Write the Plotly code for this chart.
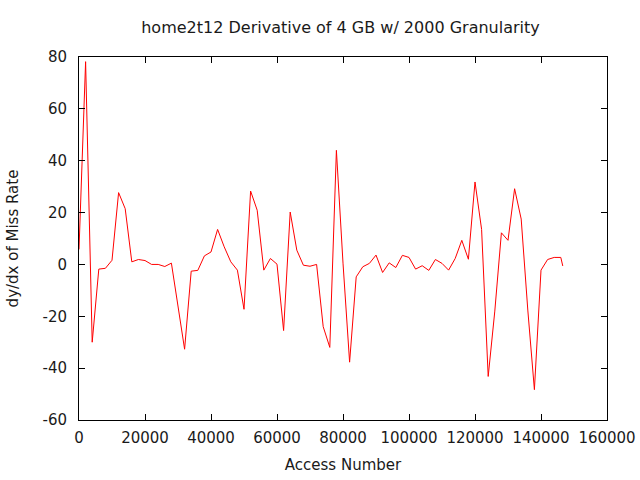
import plotly.graph_objects as go

access = [0, 2000, 4000, 6000, 8000, 10000, 12000, 14000, 16000, 18000, 20000,
          22000, 24000, 26000, 28000, 30000, 32000, 34000, 36000, 38000, 40000,
          42000, 44000, 46000, 48000, 50000, 52000, 54000, 56000, 58000, 60000,
          62000, 64000, 66000, 68000, 70000, 72000, 74000, 76000, 78000, 80000,
          82000, 84000, 86000, 88000, 90000, 92000, 94000, 96000, 98000, 100000,
          102000, 104000, 106000, 108000, 110000, 112000, 114000, 116000, 118000, 120000,
          122000, 124000, 126000, 128000, 130000, 132000, 134000, 136000, 138000, 140000,
          142000, 144000, 146000, 146600]
deriv = [5.8, 78.2, -30.0, -1.8, -1.5, 1.6, 27.7, 21.5, 1.0, 1.9, 1.5,
         0.0, 0.0, -0.8, 0.5, -17.0, -32.7, -2.6, -2.3, 3.3, 4.8,
         13.5, 6.8, 1.0, -2.2, -17.3, 28.3, 20.9, -2.2, 2.3, 0.1,
         -25.5, 20.2, 5.5, -0.3, -0.7, 0.0, -24.0, -32.0, 44.0, 0.5,
         -37.7, -4.8, -0.9, 0.4, 3.6, -3.1, 0.6, -1.2, 3.5, 2.7,
         -1.8, -0.5, -2.3, 1.9, 0.4, -2.2, 2.3, 9.3, 2.0, 31.8,
         13.5, -43.2, -18.0, 12.2, 9.3, 29.2, 17.5, -17.6, -48.3, -2.2,
         1.9, 2.7, 2.7, -0.6]

x_ticks = [0, 20000, 40000, 60000, 80000, 100000, 120000, 140000, 160000]
y_ticks = [-60, -40, -20, 0, 20, 40, 60, 80]

FONT = dict(family="DejaVu Sans", size=15, color="#1a1a1a")

fig = go.Figure()
fig.add_trace(go.Scatter(x=access, y=deriv, mode="lines",
                         line=dict(color="#ff0000", width=1), showlegend=False))

axis_common = dict(showline=True, linecolor="black", linewidth=1, mirror="ticks",
                   ticks="inside", ticklen=6, tickcolor="black", showgrid=False,
                   zeroline=False, tickfont=FONT, automargin=False)

fig.update_layout(
    width=640, height=480,
    paper_bgcolor="white", plot_bgcolor="white",
    margin=dict(l=79, r=33, t=57, b=60, autoexpand=False),
    title=dict(text="home2t12 Derivative of 4 GB w/ 2000 Granularity",
               x=0.532, xanchor="center", y=0.943, yanchor="middle",
               font=dict(family="DejaVu Sans", size=16, color="#1a1a1a")),
    xaxis=dict(range=[0, 160000], tickvals=x_ticks, ticktext=[str(v) for v in x_ticks],
               ticklabelstandoff=4,
               title=dict(text="Access Number", standoff=13, font=FONT),
               **axis_common),
    yaxis=dict(range=[-60, 80], tickvals=y_ticks, ticktext=[str(v) for v in y_ticks],
               ticklabelstandoff=8,
               title=dict(text="dy/dx of Miss Rate", standoff=20, font=FONT),
               **axis_common),
)

fig.write_html("out.html")
